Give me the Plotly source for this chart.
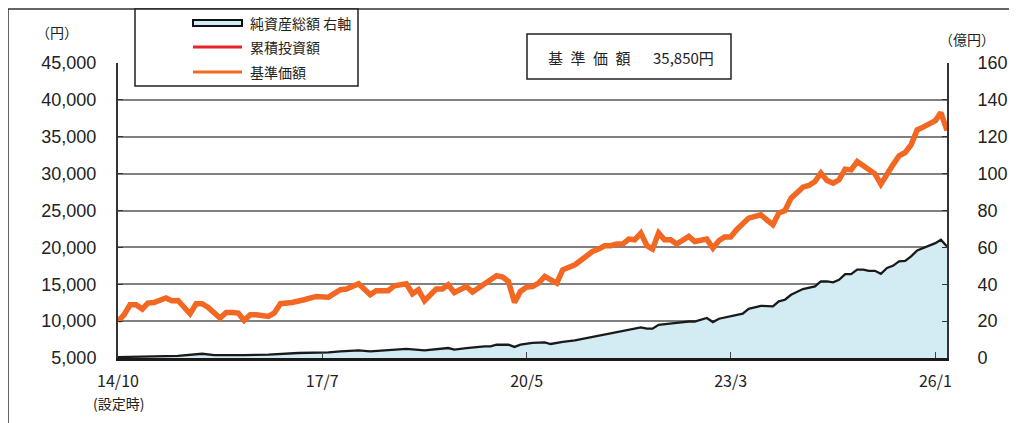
import plotly.graph_objects as go

# ---------------- data ----------------
price_dates = [
    "2014-10", "2014-11", "2014-12", "2015-01", "2015-02", "2015-03", "2015-04", "2015-06",
    "2015-07", "2015-08", "2015-10", "2015-11", "2015-12", "2016-01", "2016-03", "2016-04",
    "2016-05", "2016-06", "2016-07", "2016-08", "2016-09", "2016-11", "2016-12", "2017-01",
    "2017-03", "2017-04", "2017-05", "2017-07", "2017-09", "2017-11", "2017-12", "2018-02",
    "2018-04", "2018-05", "2018-07", "2018-08", "2018-10", "2018-11", "2018-12", "2019-01",
    "2019-03", "2019-04", "2019-05", "2019-06", "2019-08", "2019-09", "2019-11", "2020-01",
    "2020-02", "2020-03", "2020-04", "2020-05", "2020-06", "2020-07", "2020-08", "2020-09",
    "2020-11", "2020-12", "2021-02", "2021-03", "2021-05", "2021-06", "2021-07", "2021-08",
    "2021-09", "2021-10", "2021-11", "2021-12", "2022-01", "2022-02", "2022-03", "2022-04",
    "2022-05", "2022-06", "2022-07", "2022-09", "2022-10", "2022-12", "2023-01", "2023-02",
    "2023-03", "2023-04", "2023-05", "2023-07", "2023-09", "2023-10", "2023-11", "2023-12",
    "2024-01", "2024-02", "2024-04", "2024-05", "2024-06", "2024-07", "2024-08", "2024-09",
    "2024-10", "2024-11", "2024-12", "2025-01", "2025-02", "2025-04", "2025-05", "2025-06",
    "2025-07", "2025-08", "2025-09", "2025-10", "2025-11", "2025-12", "2026-01", "2026-02",
    "2026-03", "2026-04",
]
price_values = [
    10000, 10870, 12220, 12220, 11640, 12450, 12530, 13130,
    12760, 12800, 11000, 12360, 12360, 11860, 10420, 11180,
    11180, 11100, 10100, 10870, 10870, 10640, 11100, 12360,
    12530, 12800, 12900, 13350, 13250, 14250, 14350, 15070,
    13580, 14120, 14120, 14800, 15070, 13710, 14250, 12760,
    14350, 14350, 14930, 13890, 14700, 13940, 15160, 16150,
    15970, 15380, 12530, 14020, 14620, 14700, 15160, 16060,
    15160, 16960, 17640, 18220, 19440, 19770, 20220, 20220,
    20450, 20450, 21120, 21030, 21940, 20220, 19770, 21940,
    21030, 21030, 20450, 21480, 20800, 21120, 19900, 20930,
    21400, 21400, 22400, 23970, 24420, 23740, 23060, 24650,
    25000, 26680, 28170, 28390, 28930, 30070, 29070, 28710,
    29160, 30610, 30510, 31640, 31060, 29970, 28580, 30070,
    31190, 32410, 32860, 33900, 35930, 36300, 36840, 37190,
    38280, 35850,
]

nav_dates = [
    "2014-10", "2015-02", "2015-08", "2015-12", "2016-02", "2016-07", "2016-11", "2017-04",
    "2017-07", "2017-09", "2017-11", "2018-02", "2018-04", "2018-07", "2018-10", "2019-01",
    "2019-03", "2019-05", "2019-06", "2019-08", "2019-11", "2019-12", "2020-01", "2020-03",
    "2020-04", "2020-05", "2020-07", "2020-09", "2020-10", "2020-12", "2021-02", "2021-05",
    "2021-07", "2021-09", "2021-11", "2022-01", "2022-02", "2022-03", "2022-04", "2022-06",
    "2022-07", "2022-09", "2022-10", "2022-12", "2023-01", "2023-02", "2023-04", "2023-06",
    "2023-07", "2023-09", "2023-11", "2023-12", "2024-01", "2024-02", "2024-04", "2024-06",
    "2024-07", "2024-08", "2024-09", "2024-10", "2024-11", "2024-12", "2025-01", "2025-02",
    "2025-03", "2025-04", "2025-05", "2025-06", "2025-07", "2025-08", "2025-09", "2025-10",
    "2025-11", "2025-12", "2026-02", "2026-03", "2026-04",
]
nav_values = [
    0.5, 0.9, 1.2, 2.3, 1.6, 1.6, 1.8, 2.7,
    2.7, 3.0, 3.6, 4.1, 3.6, 4.1, 4.9, 4.1,
    4.9, 5.4, 4.5, 5.4, 6.3, 6.3, 7.2, 7.2,
    6.0, 7.2, 8.2, 8.5, 7.6, 8.8, 9.5, 11.4,
    12.6, 13.9, 15.3, 16.6, 15.9, 15.9, 18.0, 18.4,
    19.0, 19.8, 19.8, 21.7, 19.5, 21.3, 22.5, 24.0,
    26.7, 28.3, 28.0, 30.7, 31.6, 34.3, 37.4, 38.8,
    41.5, 41.5, 41.0, 42.4, 45.5, 45.5, 47.9, 47.9,
    47.3, 47.3, 45.7, 48.8, 50.0, 52.4, 52.7, 55.1,
    58.3, 59.6, 62.3, 64.1, 60.5,
]

yen_ticks = [5000, 10000, 15000, 20000, 25000, 30000, 35000, 40000, 45000]
oku_ticks = [0, 20, 40, 60, 80, 100, 120, 140, 160]
x_tick_dates = ["2014-10-01", "2017-08-01", "2020-06-01", "2023-04-01", "2026-02-01"]
x_tick_labels = ["14/10", "17/7", "20/5", "23/3", "26/1"]
first_tick_note = "(設定時)"
legend_labels = ["純資産総額 右軸", "累積投資額", "基準価額"]

# ---------------- styling / geometry ----------------
W, H = 1017, 423
OFF = 8  # page body margin offset in the screenshot
ML, MR, MT, MB = 110, 78, 55, 73
PW, PH = W - ML - MR, H - MT - MB
JP = "Noto Sans CJK JP"
NUM = "Liberation Sans"
ORANGE = "#F26722"
RED = "#E8232A"
FILL = "#D3EBF2"


def px(x):
    return (x - OFF - ML) / PW


def py(y):
    return (H - MB - (y - OFF)) / PH


fig = go.Figure()
fig.add_trace(go.Scatter(
    x=nav_dates, y=nav_values, yaxis="y", mode="lines",
    fill="tozeroy", fillcolor=FILL,
    line=dict(color="#1a1a1a", width=2.3), name=legend_labels[0], showlegend=False,
))
fig.add_trace(go.Scatter(
    x=price_dates, y=price_values, yaxis="y2", mode="lines",
    line=dict(color=ORANGE, width=5.5), name=legend_labels[2], showlegend=False,
))

shapes = [
    # outer frame
    dict(type="rect", xref="paper", yref="paper", x0=px(8), x1=px(1013), y0=py(440), y1=py(9),
         line=dict(color="#333", width=1.5), layer="above"),
    # legend box
    dict(type="rect", xref="paper", yref="paper", x0=px(135), x1=px(358), y0=py(86), y1=py(9),
         fillcolor="white", line=dict(color="#222", width=1.5), layer="above"),
    dict(type="rect", xref="paper", yref="paper", x0=px(193), x1=px(242), y0=py(26), y1=py(20),
         fillcolor=FILL, line=dict(color="#111", width=2), layer="above"),
    dict(type="line", xref="paper", yref="paper", x0=px(193), x1=px(242), y0=py(47), y1=py(47),
         line=dict(color=RED, width=3), layer="above"),
    dict(type="line", xref="paper", yref="paper", x0=px(193), x1=px(242), y0=py(72), y1=py(72),
         line=dict(color=ORANGE, width=3), layer="above"),
    # base price box
    dict(type="rect", xref="paper", yref="paper", x0=px(527), x1=px(731), y0=py(79), y1=py(34),
         fillcolor="white", line=dict(color="#222", width=1.5), layer="above"),
]

annotations = []
for lab, yy in zip(legend_labels, [23, 47, 72]):
    annotations.append(dict(xref="paper", yref="paper", x=px(248), y=py(yy), text=lab,
                            showarrow=False, xanchor="left", yanchor="middle",
                            font=dict(family=JP, size=14, color="#222")))
last_price = price_values[-1]
annotations += [
    dict(xref="paper", yref="paper", x=px(631), y=py(57),
         text="基\u2002準\u2002価\u2002額\u3000\u2002" + f"{last_price:,}" + "円",
         showarrow=False, xanchor="center", yanchor="middle",
         font=dict(family=JP, size=15, color="#222")),
    dict(xref="paper", yref="paper", x=px(57), y=py(32), text="（円）", showarrow=False,
         xanchor="center", yanchor="middle", font=dict(family=JP, size=14, color="#222")),
    dict(xref="paper", yref="paper", x=px(967), y=py(39), text="（億円）", showarrow=False,
         xanchor="center", yanchor="middle", font=dict(family=JP, size=14, color="#222")),
    dict(xref="paper", yref="paper", x=px(118), y=py(403), text=first_tick_note, showarrow=False,
         xanchor="center", yanchor="middle", font=dict(family=JP, size=14, color="#222")),
]

fig.update_layout(
    width=W, height=H, autosize=False,
    margin=dict(l=ML, r=MR, t=MT, b=MB, pad=0),
    paper_bgcolor="white", plot_bgcolor="white",
    showlegend=False,
    xaxis=dict(
        type="date", range=["2014-10-01", "2026-04-01"],
        tickmode="array", tickvals=x_tick_dates, ticktext=x_tick_labels,
        ticks="inside", ticklen=6, tickwidth=1, tickcolor="#444",
        showline=True, linecolor="#1a1a1a", linewidth=3,
        showgrid=False, zeroline=False,
        tickfont=dict(family=JP, size=16, color="#222"), ticklabelstandoff=7,
    ),
    yaxis=dict(
        side="right", range=[0, 160], tickmode="array", tickvals=oku_ticks,
        showgrid=True, gridcolor="#808080", gridwidth=1.5,
        showline=True, linecolor="#333", linewidth=2,
        ticks="inside", ticklen=5, tickcolor="#333",
        zeroline=False, tickfont=dict(family=NUM, size=18, color="#222"),
        ticklabelstandoff=25,
    ),
    yaxis2=dict(
        overlaying="y", side="left", range=[5000, 45000], tickmode="array",
        tickvals=yen_ticks, tickformat=",d",
        showgrid=False, showline=True, linecolor="#333", linewidth=2,
        ticks="inside", ticklen=5, tickcolor="#333",
        zeroline=False, tickfont=dict(family=NUM, size=18, color="#222"),
        ticklabelstandoff=16,
    ),
    shapes=shapes,
    annotations=annotations,
)

fig.write_html("out.html")
